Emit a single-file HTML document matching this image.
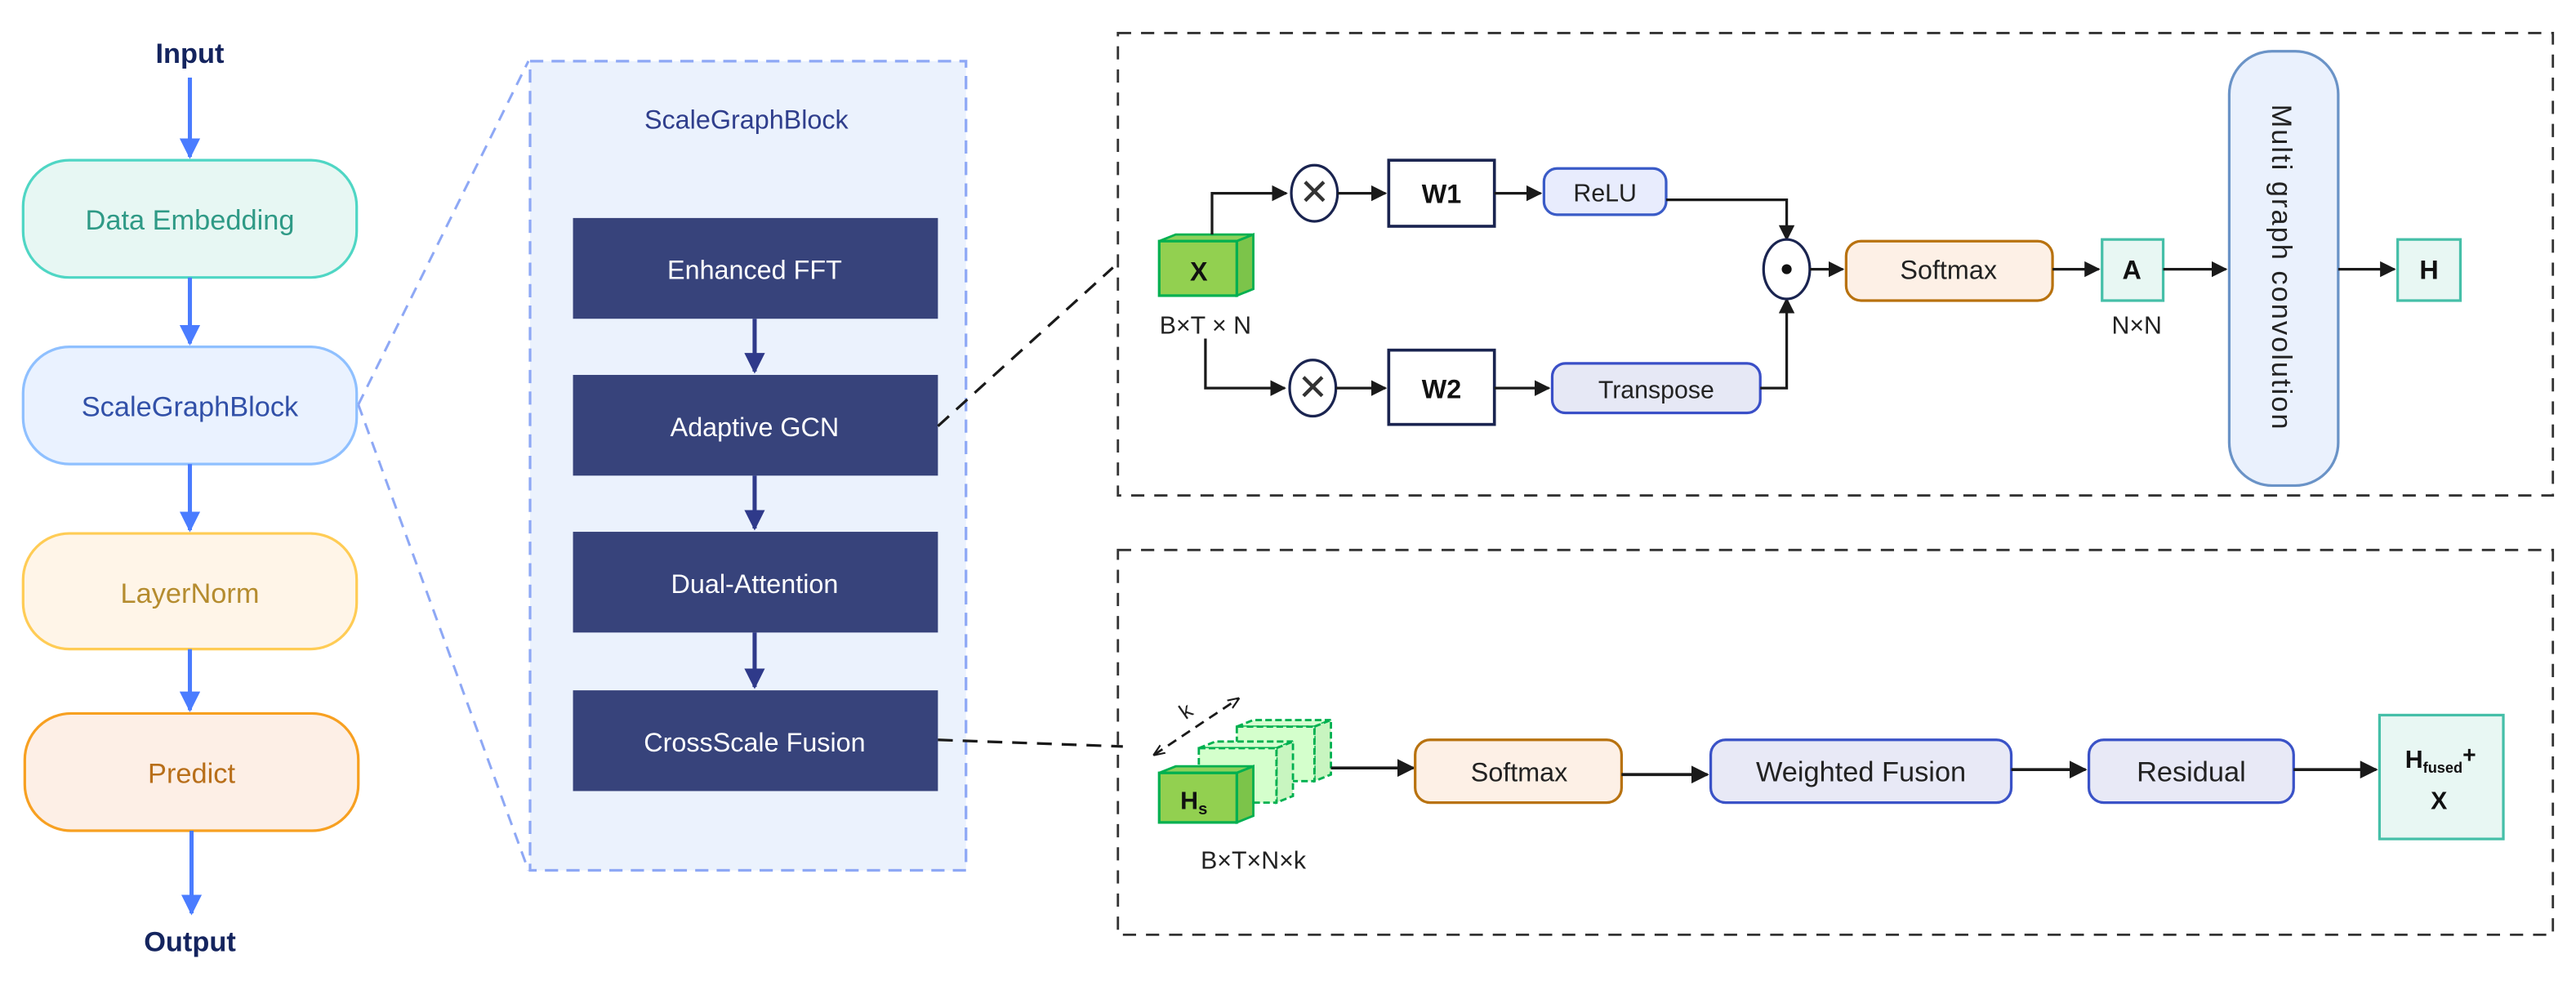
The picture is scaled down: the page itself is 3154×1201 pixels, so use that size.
<!DOCTYPE html>
<html><head><meta charset="utf-8"><style>
html,body{margin:0;padding:0;background:#fff;}
svg{display:block;}
text{font-family:"Liberation Sans",sans-serif;}
</style></head><body>
<svg width="3154" height="1201" viewBox="0 0 1560 594" xmlns="http://www.w3.org/2000/svg">
<defs>
<marker id="ab" viewBox="0 0 10 10" refX="9" refY="5" markerWidth="5" markerHeight="5" orient="auto"><path d="M0,0L10,5L0,10z" fill="#4a7cff"/></marker>
<marker id="an" viewBox="0 0 10 10" refX="9" refY="5" markerWidth="5" markerHeight="5" orient="auto"><path d="M0,0L10,5L0,10z" fill="#2f3a8a"/></marker>
<marker id="ak" viewBox="0 0 10 10" refX="9" refY="5" markerWidth="6" markerHeight="6" orient="auto"><path d="M0,0L10,5L0,10z" fill="#1a1a1a"/></marker>
<marker id="ak2" viewBox="0 0 10 10" refX="9" refY="5" markerWidth="5" markerHeight="5" orient="auto-start-reverse"><path d="M0,1L10,5L0,9" fill="none" stroke="#1a1a1a" stroke-width="1.5"/></marker>
</defs>

<text x="115" y="38" font-size="17" font-weight="bold" fill="#14245e" text-anchor="middle">Input</text>
<line x1="115" y1="47" x2="115" y2="95" stroke="#4a7cff" stroke-width="2.5" marker-end="url(#ab)"/>
<rect x="14" y="97" width="202" height="71" rx="28" fill="#e7f7f3" stroke="#4fd6c4" stroke-width="1.6"/>
<text x="115" y="139" font-size="17" fill="#2f9a86" text-anchor="middle">Data Embedding</text>
<line x1="115" y1="168" x2="115" y2="208" stroke="#4a7cff" stroke-width="2.5" marker-end="url(#ab)"/>
<rect x="14" y="210" width="202" height="71" rx="28" fill="#eaf2ff" stroke="#8fc0ff" stroke-width="1.6"/>
<text x="115" y="252" font-size="17" fill="#3150a8" text-anchor="middle">ScaleGraphBlock</text>
<line x1="115" y1="281" x2="115" y2="321" stroke="#4a7cff" stroke-width="2.5" marker-end="url(#ab)"/>
<rect x="14" y="323" width="202" height="70" rx="28" fill="#fff5e8" stroke="#ffcc55" stroke-width="1.6"/>
<text x="115" y="365" font-size="17" fill="#b58c2f" text-anchor="middle">LayerNorm</text>
<line x1="115" y1="393" x2="115" y2="430" stroke="#4a7cff" stroke-width="2.5" marker-end="url(#ab)"/>
<rect x="15" y="432" width="202" height="71" rx="28" fill="#fdefe6" stroke="#f7a021" stroke-width="1.6"/>
<text x="116" y="474" font-size="17" fill="#b86f1a" text-anchor="middle">Predict</text>
<line x1="116" y1="503" x2="116" y2="553" stroke="#4a7cff" stroke-width="2.5" marker-end="url(#ab)"/>
<text x="115" y="576" font-size="17" font-weight="bold" fill="#14245e" text-anchor="middle">Output</text>

<line x1="217" y1="245" x2="320" y2="37" stroke="#8ea8f5" stroke-width="1.5" stroke-dasharray="7,5"/>
<line x1="217" y1="245" x2="320" y2="527" stroke="#8ea8f5" stroke-width="1.5" stroke-dasharray="7,5"/>

<rect x="321" y="37" width="264" height="490" fill="#ebf2fd" stroke="#8ea8f5" stroke-width="1.6" stroke-dasharray="8,5"/>
<text x="452" y="78" font-size="16" fill="#2f3e8c" text-anchor="middle">ScaleGraphBlock</text>
<rect x="347" y="132" width="221" height="61" fill="#37437b"/>
<text x="457" y="169" font-size="16" fill="#fff" text-anchor="middle">Enhanced FFT</text>
<line x1="457" y1="193" x2="457" y2="225" stroke="#2f3a8a" stroke-width="2.5" marker-end="url(#an)"/>
<rect x="347" y="227" width="221" height="61" fill="#37437b"/>
<text x="457" y="264" font-size="16" fill="#fff" text-anchor="middle">Adaptive GCN</text>
<line x1="457" y1="288" x2="457" y2="320" stroke="#2f3a8a" stroke-width="2.5" marker-end="url(#an)"/>
<rect x="347" y="322" width="221" height="61" fill="#37437b"/>
<text x="457" y="359" font-size="16" fill="#fff" text-anchor="middle">Dual-Attention</text>
<line x1="457" y1="383" x2="457" y2="416" stroke="#2f3a8a" stroke-width="2.5" marker-end="url(#an)"/>
<rect x="347" y="418" width="221" height="61" fill="#37437b"/>
<text x="457" y="455" font-size="16" fill="#fff" text-anchor="middle">CrossScale Fusion</text>

<line x1="568" y1="258" x2="674" y2="162" stroke="#1a1a1a" stroke-width="1.6" stroke-dasharray="9,6"/>
<line x1="568" y1="448" x2="680" y2="452" stroke="#1a1a1a" stroke-width="1.6" stroke-dasharray="9,6"/>

<rect x="677" y="20" width="869" height="280" fill="none" stroke="#333" stroke-width="1.4" stroke-dasharray="8,6"/>
<polygon points="702,146 712,142 759,142 749,146" fill="#8ed05a" stroke="#00b050" stroke-width="1.4"/>
<polygon points="749,146 759,142 759,175 749,179" fill="#7cc44a" stroke="#00b050" stroke-width="1.4"/>
<rect x="702" y="146" width="47" height="33" fill="#92d050" stroke="#00b050" stroke-width="1.6"/>
<text x="726" y="170" font-size="16" font-weight="bold" fill="#111" text-anchor="middle">X</text>
<text x="730" y="202" font-size="15" fill="#222" text-anchor="middle">B×T × N</text>
<polyline points="734,142 734,117 779,117" fill="none" stroke="#1a1a1a" stroke-width="1.6" marker-end="url(#ak)"/>
<ellipse cx="796" cy="117" rx="14" ry="17" fill="#fff" stroke="#1a2450" stroke-width="1.6"/>
<text x="796" y="124" font-size="22" fill="#333" text-anchor="middle">✕</text>
<line x1="810" y1="117" x2="839" y2="117" stroke="#1a1a1a" stroke-width="1.6" marker-end="url(#ak)"/>
<rect x="841" y="97" width="64" height="40" fill="#fff" stroke="#1a2450" stroke-width="1.8"/>
<text x="873" y="123" font-size="16" font-weight="bold" fill="#111" text-anchor="middle">W1</text>
<line x1="905" y1="117" x2="933" y2="117" stroke="#1a1a1a" stroke-width="1.6" marker-end="url(#ak)"/>
<rect x="935" y="102" width="74" height="28" rx="8" fill="#e8ecfd" stroke="#3a5bc7" stroke-width="1.6"/>
<text x="972" y="122" font-size="15" fill="#222" text-anchor="middle">ReLU</text>
<polyline points="1009,121 1082,121 1082,145" fill="none" stroke="#1a1a1a" stroke-width="1.6" marker-end="url(#ak)"/>

<polyline points="730,205 730,235 778,235" fill="none" stroke="#1a1a1a" stroke-width="1.6" marker-end="url(#ak)"/>
<ellipse cx="795" cy="235" rx="14" ry="17" fill="#fff" stroke="#1a2450" stroke-width="1.6"/>
<text x="795" y="242" font-size="22" fill="#333" text-anchor="middle">✕</text>
<line x1="809" y1="235" x2="839" y2="235" stroke="#1a1a1a" stroke-width="1.6" marker-end="url(#ak)"/>
<rect x="841" y="212" width="64" height="45" fill="#fff" stroke="#1a2450" stroke-width="1.8"/>
<text x="873" y="241" font-size="16" font-weight="bold" fill="#111" text-anchor="middle">W2</text>
<line x1="905" y1="235" x2="938" y2="235" stroke="#1a1a1a" stroke-width="1.6" marker-end="url(#ak)"/>
<rect x="940" y="220" width="126" height="30" rx="8" fill="#e6e8f5" stroke="#3a4fc7" stroke-width="1.6"/>
<text x="1003" y="241" font-size="15" fill="#222" text-anchor="middle">Transpose</text>
<polyline points="1066,235 1082,235 1082,181" fill="none" stroke="#1a1a1a" stroke-width="1.6" marker-end="url(#ak)"/>

<ellipse cx="1082" cy="163" rx="14" ry="18" fill="#fff" stroke="#1a2450" stroke-width="1.6"/>
<circle cx="1082" cy="163" r="3" fill="#111"/>
<line x1="1096" y1="163" x2="1116" y2="163" stroke="#1a1a1a" stroke-width="1.6" marker-end="url(#ak)"/>
<rect x="1118" y="146" width="125" height="36" rx="9" fill="#fdf0e6" stroke="#b8720f" stroke-width="1.6"/>
<text x="1180" y="169" font-size="16" fill="#222" text-anchor="middle">Softmax</text>
<line x1="1243" y1="163" x2="1271" y2="163" stroke="#1a1a1a" stroke-width="1.6" marker-end="url(#ak)"/>
<rect x="1273" y="145" width="37" height="37" fill="#e8f7f3" stroke="#45bfa8" stroke-width="1.6"/>
<text x="1291" y="169" font-size="16" font-weight="bold" fill="#111" text-anchor="middle">A</text>
<text x="1294" y="202" font-size="15" fill="#222" text-anchor="middle">N×N</text>
<line x1="1310" y1="163" x2="1348" y2="163" stroke="#1a1a1a" stroke-width="1.6" marker-end="url(#ak)"/>
<rect x="1350" y="31" width="66" height="263" rx="26" fill="#eaf1fd" stroke="#6a93c7" stroke-width="1.6"/>
<text x="0" y="0" font-size="17" fill="#222" text-anchor="middle" transform="translate(1376,162) rotate(90)" letter-spacing="1">Multi graph convolution</text>
<line x1="1416" y1="163" x2="1450" y2="163" stroke="#1a1a1a" stroke-width="1.6" marker-end="url(#ak)"/>
<rect x="1452" y="145" width="38" height="37" fill="#e8f7f3" stroke="#45bfa8" stroke-width="1.6"/>
<text x="1471" y="169" font-size="16" font-weight="bold" fill="#111" text-anchor="middle">H</text>

<rect x="677" y="333" width="869" height="233" fill="none" stroke="#333" stroke-width="1.4" stroke-dasharray="8,6"/>
<g stroke="#00b050" stroke-width="1.4" stroke-dasharray="4,2">
<polygon points="749,440 759,436 806,436 796,440" fill="#d6ffd0"/>
<polygon points="796,440 806,436 806,469 796,473" fill="#c8f5c0"/>
<rect x="749" y="440" width="47" height="33" fill="#d4ffcc"/>
<polygon points="726,453 736,449 783,449 773,453" fill="#d6ffd0"/>
<polygon points="773,453 783,449 783,482 773,486" fill="#c8f5c0"/>
<rect x="726" y="453" width="47" height="33" fill="#d4ffcc"/>
</g>
<polygon points="702,468 712,464 759,464 749,468" fill="#8ed05a" stroke="#00b050" stroke-width="1.4"/>
<polygon points="749,468 759,464 759,494 749,498" fill="#7cc44a" stroke="#00b050" stroke-width="1.4"/>
<rect x="702" y="468" width="47" height="30" fill="#92d050" stroke="#00b050" stroke-width="1.6"/>
<text x="723" y="490" font-size="15" font-weight="bold" fill="#111" text-anchor="middle">H<tspan font-size="10" dy="3">s</tspan></text>
<line x1="699" y1="457" x2="750" y2="423" stroke="#1a1a1a" stroke-width="1.4" stroke-dasharray="6,4" marker-start="url(#ak2)" marker-end="url(#ak2)"/>
<text x="718" y="436" font-size="13" fill="#222" transform="rotate(-35 718 436)">k</text>
<text x="759" y="526" font-size="15" fill="#222" text-anchor="middle">B×T×N×k</text>
<line x1="806" y1="465" x2="856" y2="465" stroke="#1a1a1a" stroke-width="1.8" marker-end="url(#ak)"/>
<rect x="857" y="448" width="125" height="38" rx="9" fill="#fdf0e6" stroke="#b8720f" stroke-width="1.6"/>
<text x="920" y="473" font-size="16" fill="#222" text-anchor="middle">Softmax</text>
<line x1="982" y1="469" x2="1034" y2="469" stroke="#1a1a1a" stroke-width="1.8" marker-end="url(#ak)"/>
<rect x="1036" y="448" width="182" height="38" rx="9" fill="#e8e9f6" stroke="#3a52c7" stroke-width="1.6"/>
<text x="1127" y="473" font-size="17" fill="#222" text-anchor="middle">Weighted Fusion</text>
<line x1="1218" y1="466" x2="1263" y2="466" stroke="#1a1a1a" stroke-width="1.8" marker-end="url(#ak)"/>
<rect x="1265" y="448" width="124" height="38" rx="9" fill="#e8e9f6" stroke="#3a52c7" stroke-width="1.6"/>
<text x="1327" y="473" font-size="17" fill="#222" text-anchor="middle">Residual</text>
<line x1="1389" y1="466" x2="1439" y2="466" stroke="#1a1a1a" stroke-width="1.8" marker-end="url(#ak)"/>
<rect x="1441" y="433" width="75" height="75" fill="#e8f7f3" stroke="#45bfa8" stroke-width="1.6"/>
<text x="1478" y="465" font-size="15" font-weight="bold" fill="#111" text-anchor="middle">H<tspan font-size="9" dy="3">fused</tspan><tspan dy="-6" font-size="14">+</tspan></text>
<text x="1477" y="490" font-size="15" font-weight="bold" fill="#111" text-anchor="middle">X</text>
</svg>
</body></html>
